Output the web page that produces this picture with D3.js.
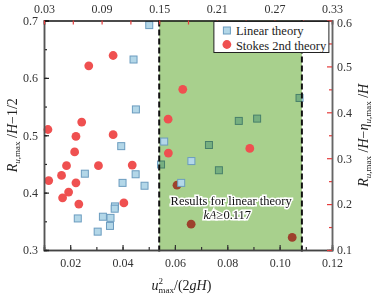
<!DOCTYPE html>
<html>
<head>
<meta charset="utf-8">
<script src="https://cdn.jsdelivr.net/npm/d3@7"></script>
<style>
  body { margin: 0; background: #fff; }
  svg text { font-family: "Liberation Serif", "Times New Roman", serif; }
</style>
</head>
<body>
<div id="chart"></div>
<script>
// points drawn above the shaded band: [u^2/(2gH), R/H-1/2]
const linearPts = [
  [0.0502, 0.692], [0.0442, 0.632], [0.0451, 0.545], [0.0395, 0.481], [0.0256, 0.433],
  [0.0450, 0.432], [0.0400, 0.417], [0.0484, 0.412], [0.0371, 0.376], [0.0370, 0.372],
  [0.0229, 0.355], [0.0325, 0.358], [0.0354, 0.356], [0.0352, 0.342], [0.0305, 0.332],
  [0.0559, 0.489], [0.0663, 0.455], [0.0624, 0.417]
];
const stokesPts = [
  [0.0364, 0.639], [0.0271, 0.621], [0.0244, 0.523], [0.0115, 0.510], [0.0364, 0.501],
  [0.0222, 0.498], [0.0217, 0.471], [0.0186, 0.447], [0.0308, 0.447], [0.0437, 0.448],
  [0.0167, 0.430], [0.0118, 0.421], [0.0222, 0.417], [0.0194, 0.401], [0.0171, 0.391],
  [0.0233, 0.380], [0.0405, 0.382], [0.0630, 0.580], [0.0574, 0.528], [0.0575, 0.469],
  [0.0886, 0.477]
];
// points that sit under the shaded band
const linearBehind = [
  [0.0547, 0.449], [0.0730, 0.483], [0.0768, 0.439], [0.0844, 0.525], [0.0914, 0.529], [0.1076, 0.565]
];
const stokesBehind = [
  [0.0608, 0.413], [0.0662, 0.345], [0.1048, 0.322]
];
const band = [0.054, 0.1085];
const xTicks = [0.02, 0.04, 0.06, 0.08, 0.10, 0.12];
const topTicks = [0.03, 0.09, 0.15, 0.21, 0.27, 0.33];
const yTicks = [0.3, 0.4, 0.5, 0.6, 0.7];
const y2Ticks = [0.1, 0.2, 0.3, 0.4, 0.5, 0.6];
const legendItems = ["Linear theory", "Stokes 2nd theory"];

const W = 376, H = 298;
const margin = { top: 20.5, right: 44, bottom: 48, left: 44 };
const width = W - margin.left - margin.right;
const height = H - margin.top - margin.bottom;

const svg = d3.select("#chart").append("svg")
  .attr("width", W).attr("height", H);
const g = svg.append("g")
  .attr("transform", "translate(" + margin.left + "," + margin.top + ")");

const x = d3.scaleLinear().domain([0.01, 0.12]).range([0, width]);
const xTop = d3.scaleLinear().domain([0.03, 0.33]).range([0, width]);
const y = d3.scaleLinear().domain([0.3, 0.7]).range([height, 0]);
const y2 = d3.scaleLinear().domain([0.1, 0.6]).range([height, 0]);

const blueFill = "#b3d7e8", blueStroke = "#6b9cbf", red = "#ef5050";

function drawSquares(sel, data) {
  sel.selectAll(null).data(data).enter().append("rect")
    .attr("x", d => x(d[0]) - 3.5)
    .attr("y", d => y(d[1]) - 3.5)
    .attr("width", 7).attr("height", 7)
    .attr("fill", blueFill)
    .attr("stroke", blueStroke)
    .attr("stroke-width", 1);
}
function drawCircles(sel, data) {
  sel.selectAll(null).data(data).enter().append("circle")
    .attr("cx", d => x(d[0]))
    .attr("cy", d => y(d[1]))
    .attr("r", 4.4)
    .attr("fill", red);
}

// points under the band
const under = g.append("g");
drawSquares(under, linearBehind);
drawCircles(under, stokesBehind);

// shaded band (multiply so underlying markers darken)
g.append("rect")
  .attr("x", x(band[0])).attr("y", 0)
  .attr("width", x(band[1]) - x(band[0]))
  .attr("height", height)
  .attr("fill", "#a8d08d")
  .style("mix-blend-mode", "multiply");

g.selectAll(".band-line").data(band).enter().append("line")
  .attr("class", "band-line")
  .attr("x1", d => x(d)).attr("x2", d => x(d))
  .attr("y1", 0).attr("y2", height + 2)
  .attr("stroke", "#111")
  .attr("stroke-width", 2)
  .attr("stroke-dasharray", "6,3");

const over = g.append("g");
drawSquares(over, linearPts);
drawCircles(over, stokesPts);

// axes
function styleAxis(sel, lineColor, tickColor, textColor) {
  sel.select(".domain").attr("stroke", lineColor).attr("stroke-width", 1.5);
  sel.selectAll(".tick line").attr("stroke", tickColor).attr("stroke-width", 1.2);
  sel.selectAll("text").attr("fill", textColor)
    .style("font-size", "12px").style("font-family", "'Liberation Serif', serif");
}

// bottom minor + major
g.append("g").attr("transform", "translate(0," + height + ")")
  .call(d3.axisBottom(x).tickValues(d3.range(0.01, 0.1201, 0.01)).tickSize(-3).tickFormat(""))
  .call(s => styleAxis(s, "#444", "#333", "#333"));
g.append("g").attr("transform", "translate(0," + height + ")")
  .call(d3.axisBottom(x).tickValues(xTicks).tickSize(-5).tickPadding(8).tickFormat(d3.format(".2f")))
  .call(s => styleAxis(s, "#444", "#333", "#333"));

// left minor + major
g.append("g")
  .call(d3.axisLeft(y).tickValues(d3.range(0.3, 0.7001, 0.05)).tickSize(-3).tickFormat(""))
  .call(s => styleAxis(s, "#555", "#222", "#333"));
g.append("g")
  .call(d3.axisLeft(y).tickValues(yTicks).tickSize(-5).tickPadding(6).tickFormat(d3.format(".1f")))
  .call(s => styleAxis(s, "#555", "#222", "#333"));

// top
g.append("g")
  .call(d3.axisTop(xTop).tickValues(d3.range(0.03, 0.3301, 0.03)).tickSize(-4).tickPadding(8).tickFormat(d => topTicks.some(t => Math.abs(t - d) < 1e-6) ? d3.format(".2f")(d) : ""))
  .call(s => styleAxis(s, "#111", "#e53b3b", "#333"));

// right
g.append("g").attr("transform", "translate(" + width + ",0)")
  .call(d3.axisRight(y2).tickValues(d3.range(0.15, 0.6, 0.1)).tickSize(-3).tickFormat(""))
  .call(s => styleAxis(s, "#666", "#e53b3b", "#333"));
g.append("g").attr("transform", "translate(" + width + ",0)")
  .call(d3.axisRight(y2).tickValues(y2Ticks).tickSize(-5).tickPadding(5).tickFormat(d3.format(".1f")))
  .call(s => styleAxis(s, "#666", "#e53b3b", "#333"))
  .call(s => s.selectAll("text").attr("dy", d => d === 0.6 ? "0.5em" : "0.32em"));

// legend
const leg = g.append("g").attr("transform", "translate(" + (x(band[1]) - 88) + ",1)");
leg.append("rect")
  .attr("x", 0).attr("y", 0).attr("width", 115).attr("height", 31)
  .attr("fill", "#fff").attr("stroke", "#222").attr("stroke-width", 1);
leg.append("rect")
  .attr("x", 9.5).attr("y", 5.5).attr("width", 7).attr("height", 7)
  .attr("fill", blueFill).attr("stroke", blueStroke);
leg.append("circle")
  .attr("cx", 13).attr("cy", 23).attr("r", 4.4).attr("fill", red);
leg.selectAll(".lt").data(legendItems).enter().append("text")
  .attr("class", "lt")
  .attr("x", 22)
  .attr("y", (d, i) => 13 + i * 15)
  .attr("fill", "#222")
  .style("font-size", "12.5px")
  .text(d => d);

// annotation
const note = g.append("g")
  .attr("fill", "#111")
  .attr("stroke", "#fff").attr("stroke-width", 3)
  .attr("paint-order", "stroke")
  .style("font-size", "12.5px");
note.append("text")
  .attr("x", x(0.0815)).attr("y", 184.5)
  .attr("text-anchor", "middle")
  .text("Results for linear theory");
const t2 = note.append("text")
  .attr("x", x(0.0800)).attr("y", 198.5)
  .attr("text-anchor", "middle");
t2.append("tspan").style("font-style", "italic").text("kA");
t2.append("tspan").text("\u22650.117");

// axis titles
const xl = svg.append("text")
  .attr("x", margin.left + x(0.0625)).attr("y", 290)
  .attr("text-anchor", "middle")
  .attr("fill", "#222")
  .style("font-size", "14px");
xl.append("tspan").style("font-style", "italic").text("u");
xl.append("tspan").attr("dy", -6).style("font-size", "9px").text("2");
xl.append("tspan").attr("dx", -4.5).attr("dy", 9).style("font-size", "9px").text("max");
xl.append("tspan").attr("dy", -3).text("/(2");
xl.append("tspan").style("font-style", "italic").text("gH");
xl.append("tspan").text(")");

function rTitle(sel) {
  sel.append("tspan").style("font-style", "italic").text("R");
  sel.append("tspan").attr("dy", 3).style("font-size", "9px").style("font-style", "italic").text("u");
  sel.append("tspan").style("font-size", "9px").text(",max");
  sel.append("tspan").attr("dy", -3).text(" /");
  sel.append("tspan").style("font-style", "italic").text("H");
}

const yl = svg.append("text")
  .attr("transform", "translate(17," + (margin.top + height / 2) + ") rotate(-90)")
  .attr("text-anchor", "middle")
  .attr("fill", "#222")
  .style("font-size", "14px");
rTitle(yl);
yl.append("tspan").text("\u22121/2");

const yr = svg.append("text")
  .attr("transform", "translate(368," + (margin.top + height / 2) + ") rotate(-90)")
  .attr("text-anchor", "middle")
  .attr("fill", "#222")
  .style("font-size", "14px");
rTitle(yr);
yr.append("tspan").text("\u2212");
yr.append("tspan").style("font-style", "italic").text("\u03b7");
yr.append("tspan").attr("dy", 3).style("font-size", "9px").style("font-style", "italic").text("u");
yr.append("tspan").style("font-size", "9px").text(",max");
yr.append("tspan").attr("dy", -3).text(" /");
yr.append("tspan").style("font-style", "italic").text("H");
</script>
</body>
</html>
